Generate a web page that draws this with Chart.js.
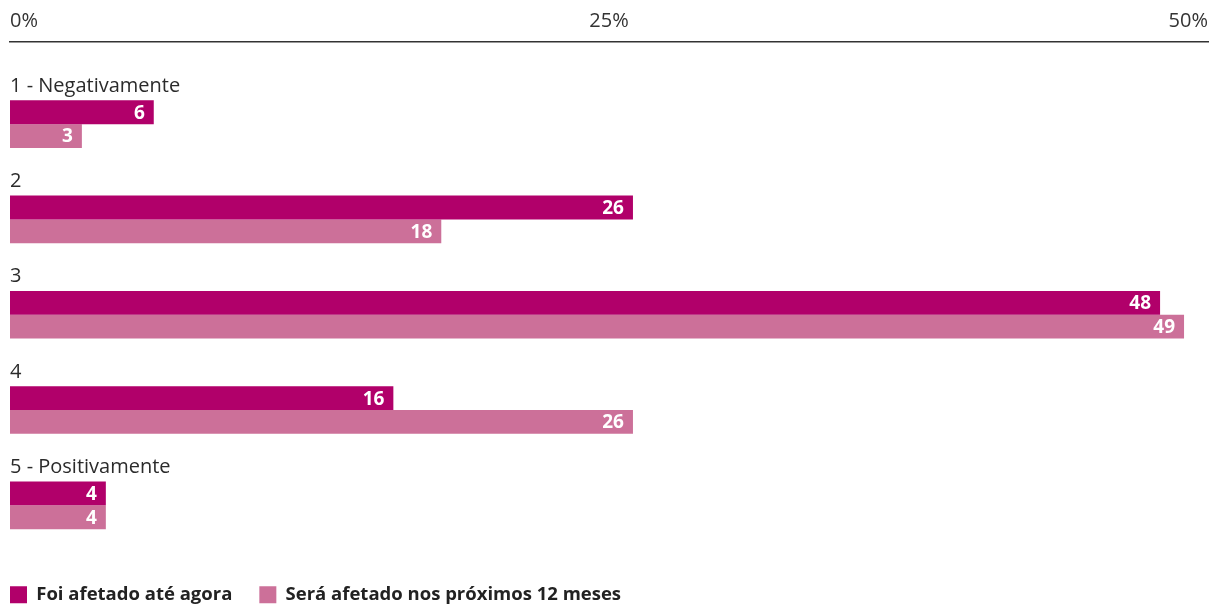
<!DOCTYPE html>
<html lang="pt">
<head>
<meta charset="utf-8">
<script src="https://cdn.jsdelivr.net/npm/chart.js@4/dist/chart.umd.min.js"></script>
<style>
  html, body { margin: 0; padding: 0; background: #fff; }
  #wrap { width: 1212px; height: 608px; }
</style>
</head>
<body>
<div id="wrap"><canvas id="grafica"></canvas></div>
<script>
const categorias = ['1 - Negativamente', '2', '3', '4', '5 - Positivamente'];
const afetadoAteAgora = [6, 26, 48, 16, 4];
const afetadoProximos = [3, 18, 49, 26, 4];
const ticksX = [0, 25, 50];
const nomesSeries = ['Foi afetado até agora', 'Será afetado nos próximos 12 meses'];

const corForte = '#b1006a';
const corClara = '#cc7099';
const fonte = '"Open Sans", Roboto, sans-serif';

// nome da categoria escrito por cima de cada par de barras
const rotulosCategoria = {
  id: 'rotulosCategoria',
  afterDatasetsDraw(chart) {
    const { ctx, chartArea } = chart;
    const escala = chart.scales.y;
    ctx.save();
    ctx.font = `20px ${fonte}`;
    ctx.fillStyle = '#2b2b2b';
    ctx.textAlign = 'left';
    ctx.textBaseline = 'middle';
    categorias.forEach((nome, i) => {
      ctx.fillText(nome, chartArea.left, escala.getPixelForValue(i) - 38);
    });
    ctx.restore();
  },
};

// valor dentro da ponta de cada barra
const rotulosValor = {
  id: 'rotulosValor',
  afterDatasetsDraw(chart) {
    const { ctx } = chart;
    ctx.save();
    ctx.font = `bold 19px ${fonte}`;
    ctx.fillStyle = '#fff';
    ctx.textAlign = 'right';
    ctx.textBaseline = 'middle';
    chart.data.datasets.forEach((ds, d) => {
      chart.getDatasetMeta(d).data.forEach((barra, i) => {
        ctx.fillText(String(ds.data[i].x), barra.x - 9, barra.y + 1);
      });
    });
    ctx.restore();
  },
};

const pontos = (valores) => valores.map((v, i) => ({ x: v, y: i }));

// eslint-disable-next-line no-new, no-undef
new Chart(document.querySelector('#grafica'), {
  type: 'bar',
  data: {
    datasets: [
      { label: nomesSeries[0], data: pontos(afetadoAteAgora), backgroundColor: corForte },
      { label: nomesSeries[1], data: pontos(afetadoProximos), backgroundColor: corClara },
    ],
  },
  options: {
    indexAxis: 'y',
    responsive: true,
    maintainAspectRatio: false,
    animation: false,
    devicePixelRatio: 1,
    categoryPercentage: 0.5,
    barPercentage: 1,
    layout: { padding: { top: 0, right: 4, bottom: -6, left: -17 } },
    scales: {
      x: {
        type: 'linear',
        position: 'top',
        min: 0,
        max: 50,
        afterBuildTicks(scale) {
          scale.ticks = ticksX.map((v) => ({ value: v }));
        },
        afterFit(scale) {
          scale.paddingLeft = 0;
          scale.paddingRight = 0;
        },
        grid: { display: false, drawTicks: false },
        border: { display: true, color: '#333', width: 1.5 },
        ticks: {
          align: 'inner',
          padding: 11,
          color: '#333',
          font: { family: fonte, size: 20, lineHeight: 1 },
          callback: (v) => `${v}%`,
        },
      },
      y: {
        type: 'linear',
        reverse: true,
        offset: false,
        bounds: 'data',
        // faixa fixa: deixa espaço para o nome da categoria acima de cada grupo
        afterDataLimits(scale) {
          scale.min = -0.862;
          scale.max = 4.558;
        },
        afterBuildTicks(scale) {
          scale.ticks = categorias.map((c, i) => ({ value: i }));
        },
        afterFit(scale) {
          scale.width = 27;
        },
        grid: { display: false, drawTicks: false },
        border: { display: false },
        ticks: { display: false },
      },
    },
    plugins: {
      tooltip: { enabled: false },
      legend: {
        position: 'bottom',
        align: 'start',
        labels: {
          boxWidth: 17,
          boxHeight: 17,
          padding: 27,
          color: '#222',
          font: { family: fonte, size: 18.5, weight: 'bold' },
        },
      },
    },
  },
  plugins: [rotulosCategoria, rotulosValor],
});
</script>
</body>
</html>
